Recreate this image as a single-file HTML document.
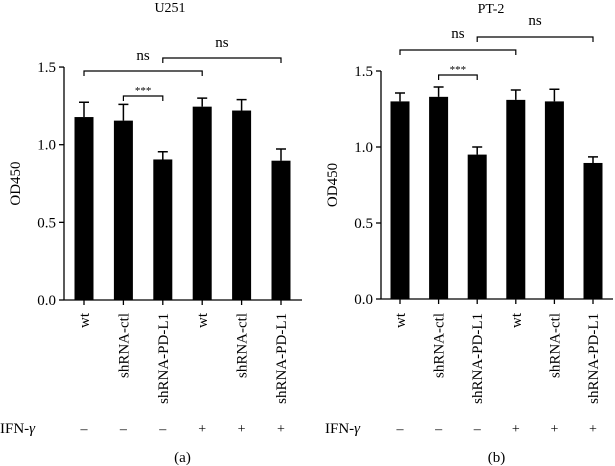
<!DOCTYPE html>
<html><head><meta charset="utf-8"><style>
body{margin:0;background:#fff}
svg{display:block;font-family:"Liberation Serif","Times New Roman",serif}
</style></head><body>
<svg id="c" width="615" height="466" viewBox="0 0 615 466" xmlns="http://www.w3.org/2000/svg"></svg>
<script>
const categories=["wt","shRNA-ctl","shRNA-PD-L1","wt","shRNA-ctl","shRNA-PD-L1"];
const ifn=["–","–","–","+","+","+"];
const u251Values=[1.178,1.155,0.905,1.245,1.22,0.897];
const u251Errors=[0.095,0.105,0.05,0.055,0.07,0.075];
const pt2Values=[1.30,1.33,0.95,1.31,1.30,0.895];
const pt2Errors=[0.055,0.065,0.05,0.065,0.08,0.04];
const yTicks=[0,0.5,1.0,1.5];
const yTickLabels=["0.0","0.5","1.0","1.5"];

const svg=document.getElementById('c');
const NS="http://www.w3.org/2000/svg";
function mk(t,a,p){const e=document.createElementNS(NS,t);for(const k in a)e.setAttribute(k,a[k]);(p||svg).appendChild(e);return e;}

function panel(cfg){
  const g=mk('g',{});
  
  
  const y=v=>cfg.y0-v*cfg.scale;
  const x=i=>cfg.x0+i*cfg.step;
  const t=mk('text',{x:cfg.titleX,y:cfg.titleY,'font-size':14,'text-anchor':'middle'},g);t.textContent=cfg.title;
  
  const ax=mk('line',{x1:cfg.axX,y1:y(1.5),x2:cfg.axX,y2:cfg.y0,stroke:'#000','stroke-width':1.3},g);
  
  yTicks.forEach((v,i)=>{
    mk('line',{x1:cfg.axX-5,y1:y(v),x2:cfg.axX,y2:y(v),stroke:'#000','stroke-width':1.3},g);
    const l=mk('text',{x:cfg.axX-8,y:y(v)+5,'font-size':15,'text-anchor':'end'},g);l.textContent=yTickLabels[i];
    
  });
  const yl=mk('text',{transform:`translate(${cfg.axX-44},${y(0.75)}) rotate(-90)`,'font-size':15,'text-anchor':'middle'},g);
  yl.textContent='OD450';
  const xa=mk('line',{x1:cfg.axX,y1:cfg.y0,x2:cfg.axEnd,y2:cfg.y0,stroke:'#000','stroke-width':1.3},g);
  
  cfg.values.forEach((v,i)=>{
    const cx=x(i);
    const b=mk('rect',{x:cx-9.5,y:y(v),width:19,height:cfg.y0-y(v),fill:'#000'},g);
    
    const top=y(v+cfg.errors[i]);
    const e=mk('path',{d:`M${cx},${y(v)}V${top}M${cx-5},${top}H${cx+5}`,stroke:'#000','stroke-width':1.5,fill:'none'},g);
    
    mk('line',{x1:cx,y1:cfg.y0,x2:cx,y2:cfg.y0+5,stroke:'#000','stroke-width':1.3},g);
    const cl=mk('text',{transform:`translate(${cx+5},313) rotate(-90)`,'font-size':15,'text-anchor':'end'},g);
    cl.textContent=categories[i];
    const s=mk('text',{x:cx,y:433,'font-size':14,'text-anchor':'middle'},g);s.textContent=ifn[i];
    
  });
  const il=mk('text',{x:cfg.ifnX,y:433,'font-size':15},g);
  il.innerHTML='IFN-<tspan font-style="italic">γ</tspan>';
  
  const pl=mk('text',{x:(x(2)+x(3))/2,y:462,'font-size':15,'text-anchor':'middle'},g);pl.textContent=cfg.letter;
  
  cfg.brackets.forEach(br=>{
    const a=x(br[0]),c=x(br[1]),by=br[2];
    const p=mk('path',{d:`M${a},${by+5}V${by}H${c}V${by+5}`,stroke:'#000','stroke-width':1.2,fill:'none'},g);
    
    const tx=mk('text',{x:(a+c)/2,y:br[4],'font-size':br[3]==='***'?11:15,'text-anchor':'middle'},g);tx.textContent=br[3];
    
  });
}
panel({name:'u251-panel',title:'U251',titleX:170,titleY:12,x0:84,step:39.4,axX:64,axEnd:302,y0:300,scale:155.3,
  values:u251Values,errors:u251Errors,ifnX:0,letter:'(a)',
  brackets:[[0,3,71,'ns',60],[2,5,58,'ns',47],[1,2,96,'***',94]]});
panel({name:'pt2-panel',title:'PT-2',titleX:491,titleY:13,x0:400,step:38.6,axX:381,axEnd:613,y0:299,scale:152,
  values:pt2Values,errors:pt2Errors,ifnX:325,letter:'(b)',
  brackets:[[0,3,50,'ns',38],[2,5,37,'ns',25],[1,2,75,'***',73]]});
</script>
</body></html>
